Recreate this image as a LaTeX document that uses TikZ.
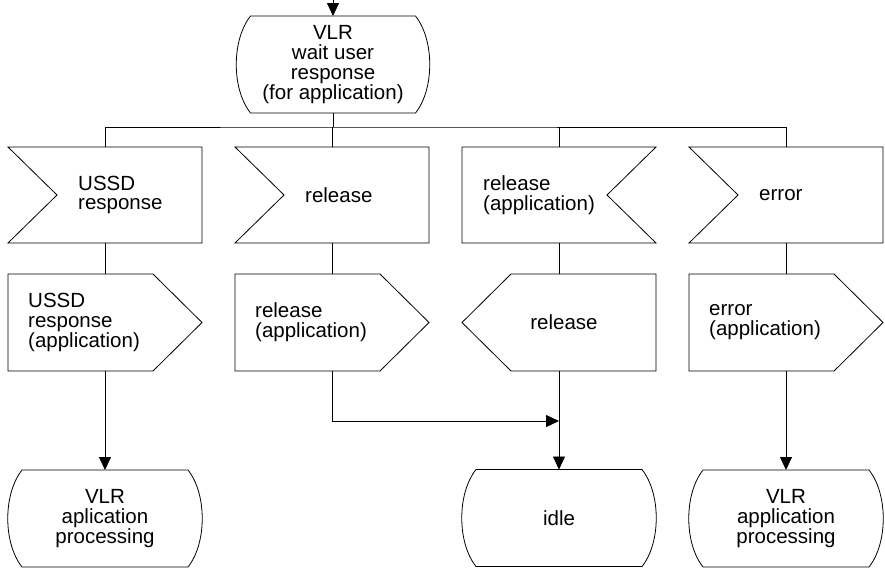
\documentclass[tikz,border=0pt]{standalone}
\usepackage{fontspec}
\setmainfont{Liberation Sans}
\usetikzlibrary{arrows.meta,calc}
\newcommand\drawstate[1]{\draw[line] ($(#1.north west)+(14,0)$) -- ($(#1.north east)+(-14,0)$) .. controls ($(#1.north east)+(5,24)$) and ($(#1.south east)+(5,-24)$) .. ($(#1.south east)+(-14,0)$) -- ($(#1.south west)+(14,0)$) .. controls ($(#1.south west)+(-5,-24)$) and ($(#1.north west)+(-5,24)$) .. cycle;}
\newcommand\drawinsig[1]{\draw[line] (#1.north west) -- (#1.north east) -- (#1.south east) -- (#1.south west) -- ($(#1.west)+(49,0)$) -- cycle;}
\newcommand\drawinsigR[1]{\draw[line] (#1.north west) -- (#1.north east) -- ($(#1.east)+(-49,0)$) -- (#1.south east) -- (#1.south west) -- cycle;}
\newcommand\drawoutsig[1]{\draw[line] (#1.north west) -- ($(#1.north east)+(-49,0)$) -- (#1.east) -- ($(#1.south east)+(-49,0)$) -- (#1.south west) -- cycle;}
\newcommand\drawoutsigL[1]{\draw[line] ($(#1.north west)+(49,0)$) -- (#1.north east) -- (#1.south east) -- ($(#1.south west)+(49,0)$) -- (#1.west) -- cycle;}
\begin{document}
\begin{tikzpicture}[x=1pt,y=-1pt,
  box/.style={minimum width=194pt,minimum height=96pt,inner sep=0pt,outer sep=0pt},
  statebox/.style={box,align=center,font=\fontsize{20.5}{19.8}\selectfont},
  txt/.style={font=\fontsize{20.5}{19.8}\selectfont,inner sep=0pt,align=left},
  ctxt/.style={font=\fontsize{20.5}{19.8}\selectfont,inner sep=0pt,align=center},
  line/.style={line width=0.8pt,black},
  arr/.style={line,-{Triangle[length=13pt,width=12pt]}}]
\useasboundingbox (0,0) rectangle (885,574);
% top state
\node[statebox,minimum width=193pt,minimum height=97pt] (s0) at (333,64.5) {VLR\\wait user\\response\\(for application)};
\drawstate{s0}
% input signals
\node[box] (i1) at (105,195) {};
\node[box] (i2) at (332,195) {};
\node[box] (i3) at (559,195) {};
\node[box] (i4) at (786,195) {};
\drawinsig{i1}
\drawinsig{i2}
\drawinsigR{i3}
\drawinsig{i4}
\node[txt,anchor=west] (ti1) at ($(i1.west)+(70,0)$) {USSD\\response};
\node[txt,anchor=west] (ti2) at ($(i2.west)+(70,0)$) {release};
\node[txt,anchor=west] (ti3) at ($(i3.west)+(21,0)$) {release\\(application)};
\node[txt,anchor=west] (ti4) at ($(i4.west)+(70,0)$) {error};
% output signals
\node[box,minimum height=97pt] (o1) at (105,322.5) {};
\node[box,minimum height=97pt] (o2) at (332,322.5) {};
\node[box,minimum height=97pt] (o3) at (559,322.5) {};
\node[box,minimum height=97pt] (o4) at (786,322.5) {};
\drawoutsig{o1}
\drawoutsig{o2}
\drawoutsigL{o3}
\drawoutsig{o4}
\node[txt,anchor=west] (to1) at ($(o1.west)+(20,0)$) {USSD\\response\\(application)};
\node[txt,anchor=west] (to2) at ($(o2.west)+(20,0)$) {release\\(application)};
\node[ctxt] (to3) at ($(o3.center)+(5,0)$) {release};
\node[txt,anchor=west] (to4) at ($(o4.west)+(20,0)$) {error\\(application)};
% bottom states
\node[statebox,minimum height=97pt] (b1) at (105,518.5) {VLR\\aplication\\processing};
\node[statebox,minimum height=97pt] (b3) at (559,518) {idle};
\node[statebox,minimum height=97pt] (b4) at (786,518.5) {VLR\\application\\processing};
\drawstate{b1}
\drawstate{b3}
\drawstate{b4}
% connectors
\coordinate (entry) at (333,0);
\coordinate (bus) at (333,127);
\coordinate (join) at (559,421);
\draw[arr] (entry) -- (s0.north);
\draw[line] (s0.south) -- (bus);
\draw[line] (i1.north) |- (bus) -| (i4.north);
\draw[line] (i2.north) -- (i2.north |- bus);
\draw[line] (i3.north) -- (i3.north |- bus);
\draw[line] (i1.south) -- (o1.north);
\draw[line] (i2.south) -- (o2.north);
\draw[line] (i3.south) -- (o3.north);
\draw[line] (i4.south) -- (o4.north);
\draw[arr] (o1.south) -- (b1.north);
\draw[arr] (o4.south) -- (b4.north);
\draw[arr] (o3.south) -- (b3.north);
\draw[arr] (o2.south) |- (join);
\end{tikzpicture}
\end{document}
